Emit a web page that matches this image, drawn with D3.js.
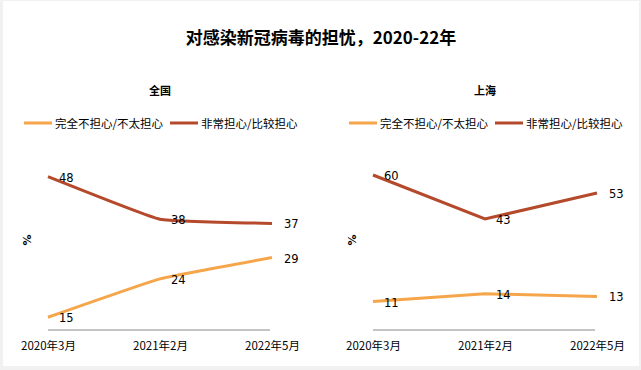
<!DOCTYPE html>
<html>
<head>
<meta charset="utf-8">
<script src="https://cdn.jsdelivr.net/npm/d3@7"></script>
<style>
  body { margin: 0; background: #f1f1f1; }
  svg { display: block; font-family: "Noto Sans CJK SC", "Noto Sans", sans-serif; }
</style>
</head>
<body>
<svg></svg>
<script>
var periods = ["2020年3月", "2021年2月", "2022年5月"];
var seriesNames = ["完全不担心/不太担心", "非常担心/比较担心"];
var colors = ["#f5a54a", "#b44a2b"];

// 全国
var national_low = [15, 24, 29];
var national_high = [48, 38, 37];
// 上海
var shanghai_low = [11, 14, 13];
var shanghai_high = [60, 43, 53];

var panels = [
    {title: "全国", low: national_low, high: national_high, x0: 48, x1: 272, domain: [12, 50], top: 168, curve: d3.curveCardinal.tension(0.7)},
    {title: "上海", low: shanghai_low, high: shanghai_high, x0: 373, x1: 597, domain: [0, 60], top: 175, curve: d3.curveLinear}
];

var width = 641, height = 370;

var svg = d3.select("svg")
    .attr("width", width)
    .attr("height", height);

svg.append("rect")
    .attr("x", 3).attr("y", 1)
    .attr("width", width - 5).attr("height", height - 5)
    .attr("fill", "#fff");

svg.append("text")
    .attr("x", 321)
    .attr("y", 44)
    .attr("text-anchor", "middle")
    .style("font-size", "17px")
    .style("font-weight", "bold")
    .text("对感染新冠病毒的担忧，2020-22年");

panels.forEach(function(p) {
    var x = d3.scalePoint().domain(periods).range([p.x0, p.x1]);
    var y = d3.scaleLinear().domain(p.domain).range([330, p.top]);
    var mid = (p.x0 + p.x1) / 2;

    var g = svg.append("g");

    g.append("text")
        .attr("x", mid)
        .attr("y", 95)
        .attr("text-anchor", "middle")
        .style("font-size", "11px")
        .style("font-weight", "bold")
        .text(p.title);

    // legend
    var lx = mid - 136;
    seriesNames.forEach(function(name, i) {
        var ox = lx + i * 146;
        g.append("line")
            .attr("x1", ox).attr("x2", ox + 28)
            .attr("y1", 123).attr("y2", 123)
            .attr("stroke", colors[i])
            .attr("stroke-width", 3);
        g.append("text")
            .attr("x", ox + 31)
            .attr("y", 127.5)
            .style("font-size", "11.5px")
            .text(name);
    });

    g.append("text")
        .attr("transform", "translate(" + (p.x0 - 17) + ",240) rotate(-90)")
        .attr("text-anchor", "middle")
        .style("font-size", "11px")
        .style("font-weight", "bold")
        .style("font-family", "\"DejaVu Sans\", sans-serif")
        .text("%");

    g.append("line")
        .attr("x1", p.x0).attr("x2", p.x1 - 2)
        .attr("y1", 330).attr("y2", 330)
        .attr("stroke", "#888")
        .attr("stroke-width", 1);

    var xAxis = d3.axisBottom(x).tickSize(0).tickPadding(12);
    var ax = g.append("g")
        .attr("transform", "translate(0,330)")
        .call(xAxis);
    ax.select(".domain").remove();
    ax.selectAll("text")
        .style("font-size", "11.5px")
        .style("font-family", "\"Noto Sans CJK SC\", sans-serif")
        .attr("fill", "#000");

    var line = d3.line()
        .x(function(d, i) { return x(periods[i]); })
        .y(function(d) { return y(d); })
        .curve(p.curve);

    [p.low, p.high].forEach(function(vals, s) {
        g.append("path")
            .attr("d", line(vals))
            .attr("fill", "none")
            .attr("stroke", colors[s])
            .attr("stroke-width", 3);

        g.selectAll(null)
            .data(vals)
            .enter().append("text")
            .attr("x", function(d, i) { return x(periods[i]) + (i == 2 ? 12 : 11); })
            .attr("y", function(d) { return y(d) + 5; })
            .style("font-size", "11.5px")
            .style("font-family", "\"DejaVu Sans\", sans-serif")
            .text(function(d) { return d; });
    });
});
</script>
</body>
</html>
